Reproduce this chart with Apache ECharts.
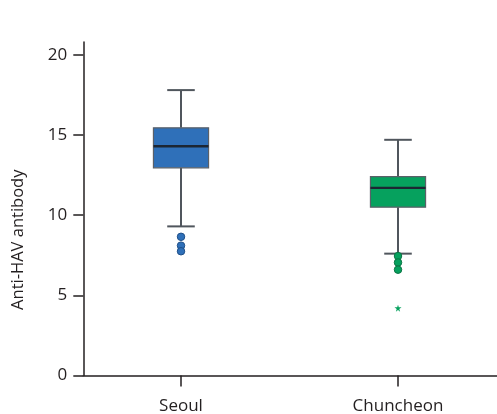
<!DOCTYPE html>
<html>
<head>
<meta charset="utf-8">
<script src="https://cdn.jsdelivr.net/npm/echarts@6/dist/echarts.min.js"></script>
<style>
html,body{margin:0;padding:0;background:#fff;}
#chart{width:497px;height:414px;}
</style>
</head>
<body>
<div id="chart"></div>
<script>
// ---- data ----
const categories = ['Seoul', 'Chuncheon'];
// [lower whisker, Q1, median, Q3, upper whisker]
const seoulBox = [9.3, 12.95, 14.3, 15.45, 17.8];
const chuncheonBox = [7.6, 10.5, 11.7, 12.4, 14.7];
const seoulOutliers = [8.65, 8.1, 7.75];
const chuncheonOutliers = [7.45, 7.05, 6.6];
const chuncheonExtremes = [4.2];
const yTicks = [0, 5, 10, 15, 20];

// ---- styling ----
const boxColors = ['#2f70b9', '#06a15e'];
const outlierBorders = ['#1f4f88', '#0a7443'];
const textColor = '#231f20';
const fontFamily = '"Open Sans", "Noto Sans", sans-serif';
const starPath = 'path://M50,0 L61,35 L98,35 L68,57 L79,91 L50,70 L21,91 L32,57 L2,35 L39,35 Z';

const boxData = [
  [categories[0]].concat(seoulBox),
  [categories[1]].concat(chuncheonBox)
];
const seoulOut = seoulOutliers.map(v => [categories[0], v]);
const chunOut = chuncheonOutliers.map(v => [categories[1], v]);
const chunExt = chuncheonExtremes.map(v => [categories[1], v]);

function renderBox(params, api) {
  const x = api.value(0);
  const band = api.size([1, 0])[0];
  const boxW = band * 0.254;
  const capW = boxW * 0.5;
  const pMin = api.coord([x, api.value(1)]);
  const pQ1 = api.coord([x, api.value(2)]);
  const pMed = api.coord([x, api.value(3)]);
  const pQ3 = api.coord([x, api.value(4)]);
  const pMax = api.coord([x, api.value(5)]);
  const cx = pMin[0];
  const lineStyle = { stroke: '#50565d', lineWidth: 2, fill: null };
  return {
    type: 'group',
    children: [
      { type: 'line', shape: { x1: cx, y1: pQ3[1], x2: cx, y2: pMax[1] }, style: lineStyle },
      { type: 'line', shape: { x1: cx, y1: pQ1[1], x2: cx, y2: pMin[1] }, style: lineStyle },
      { type: 'line', shape: { x1: cx - capW / 2, y1: pMax[1], x2: cx + capW / 2, y2: pMax[1] }, style: lineStyle },
      { type: 'line', shape: { x1: cx - capW / 2, y1: pMin[1], x2: cx + capW / 2, y2: pMin[1] }, style: lineStyle },
      { type: 'rect', shape: { x: cx - boxW / 2, y: pQ3[1], width: boxW, height: pQ1[1] - pQ3[1] },
        style: { fill: boxColors[params.dataIndex], stroke: '#5b6068', lineWidth: 1.2 } },
      { type: 'line', shape: { x1: cx - boxW / 2, y1: pMed[1], x2: cx + boxW / 2, y2: pMed[1] },
        style: { stroke: '#1c2633', lineWidth: 2.4 } }
    ]
  };
}

const chart = echarts.init(document.getElementById('chart'), null, { renderer: 'canvas' });
chart.setOption({
  animation: false,
  backgroundColor: '#fff',
  textStyle: { fontFamily: fontFamily },
  grid: [
    { left: 72.5, right: -9.5, top: 42, bottom: 38.5, containLabel: false, outerBoundsMode: 'none' },
    { left: 83.3, right: 0, top: 42, bottom: 38.5, containLabel: false, outerBoundsMode: 'none' }
  ],
  xAxis: [
    {
      gridIndex: 0,
      type: 'category',
      data: categories,
      boundaryGap: true,
      axisLine: { show: false },
      axisTick: { show: true, alignWithLabel: true, length: 11, lineStyle: { color: textColor, width: 1.5 } },
      axisLabel: { fontSize: 17, color: textColor, margin: 22, fontFamily: fontFamily },
      splitLine: { show: false }
    },
    {
      gridIndex: 1,
      type: 'value',
      min: 0, max: 1,
      axisLine: { show: true, onZero: false, lineStyle: { color: textColor, width: 1.5 } },
      axisTick: { show: false },
      axisLabel: { show: false },
      splitLine: { show: false }
    }
  ],
  yAxis: [
    {
      gridIndex: 0,
      type: 'value',
      min: 0, max: 20.8,
      interval: 5,
      offset: -10.8,
      name: 'Anti-HAV antibody',
      nameLocation: 'middle',
      nameRotate: 90,
      nameGap: 57,
      nameTextStyle: { fontSize: 16.5, color: textColor, fontFamily: fontFamily, padding: [0, 62, 0, 0] },
      axisLine: { show: true, lineStyle: { color: textColor, width: 1.5 } },
      axisTick: { show: true, length: 10, customValues: yTicks, lineStyle: { color: textColor, width: 1.5 } },
      axisLabel: { fontSize: 17, color: textColor, margin: 16, customValues: yTicks, fontFamily: fontFamily },
      splitLine: { show: false }
    },
    {
      gridIndex: 1,
      type: 'value',
      min: 0, max: 1,
      show: false
    }
  ],
  series: [
    {
      type: 'custom',
      xAxisIndex: 0, yAxisIndex: 0,
      renderItem: renderBox,
      encode: { x: 0, y: [1, 2, 3, 4, 5] },
      data: boxData,
      clip: false,
      z: 2
    },
    {
      type: 'scatter',
      xAxisIndex: 0, yAxisIndex: 0,
      symbol: 'circle',
      symbolSize: 7.5,
      itemStyle: { color: boxColors[0], borderColor: outlierBorders[0], borderWidth: 1, opacity: 1 },
      data: seoulOut,
      z: 3
    },
    {
      type: 'scatter',
      xAxisIndex: 0, yAxisIndex: 0,
      symbol: 'circle',
      symbolSize: 7.5,
      itemStyle: { color: boxColors[1], borderColor: outlierBorders[1], borderWidth: 1, opacity: 1 },
      data: chunOut,
      z: 3
    },
    {
      type: 'scatter',
      xAxisIndex: 0, yAxisIndex: 0,
      symbol: starPath,
      symbolSize: 7,
      itemStyle: { color: boxColors[1], opacity: 1 },
      data: chunExt,
      z: 3
    }
  ]
});
</script>
</body>
</html>
